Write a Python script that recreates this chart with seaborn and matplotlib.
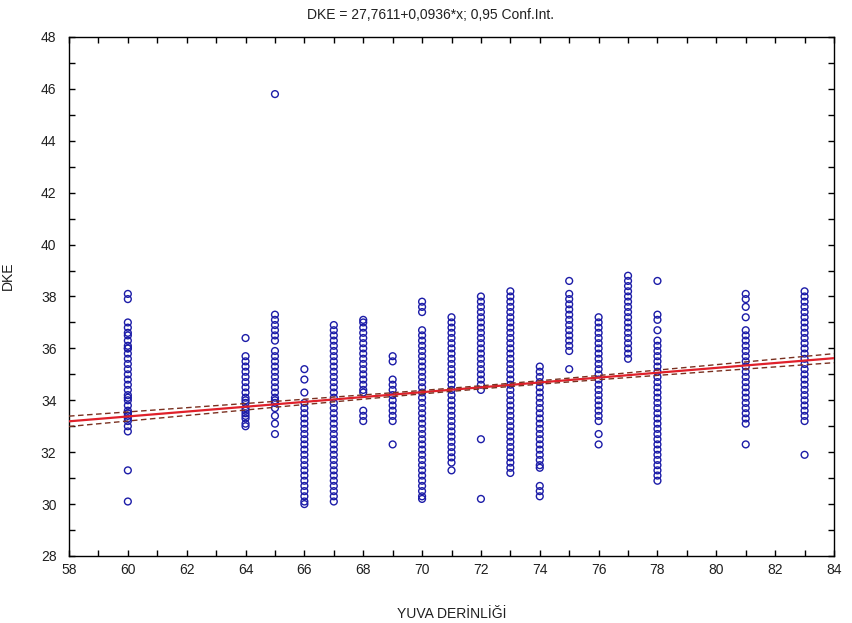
import numpy as np
import pandas as pd
import matplotlib
matplotlib.use("Agg")
import matplotlib.pyplot as plt
import seaborn as sns

# ---- data ----
title_text = "DKE = 27,7611+0,0936*x; 0,95 Conf.Int."
x_label = "YUVA DERİNLİĞİ"
y_label = "DKE"
intercept = 27.7611
slope = 0.0936
# 95% confidence band: narrowest half-width at its centre,
# and half-width at the left edge of the axis
ci_center_x = 72.0
ci_half_center = 0.06
ci_half_left = 0.20

y60 = [38.1, 37.9, 37.0, 36.8, 36.6, 36.5, 36.3, 36.1, 36.0, 36.0, 35.8, 35.6, 35.4,
       35.2, 35.0, 34.8, 34.6, 34.4, 34.2, 34.1, 34.0, 33.8, 33.6, 33.5, 33.5, 33.4,
       33.3, 33.2, 33.0, 32.8, 31.3, 30.1]
y64 = [36.4, 35.7, 35.5, 35.3, 35.1, 34.9, 34.7, 34.5, 34.3, 34.1, 34.0, 33.9, 33.7,
       33.6, 33.5, 33.4, 33.3, 33.1, 33.0]
y65 = [45.8, 37.3, 37.1, 36.9, 36.7, 36.5, 36.3, 35.9, 35.7, 35.5, 35.3, 35.1, 34.9,
       34.7, 34.5, 34.3, 34.1, 34.0, 33.9, 33.7, 33.4, 33.1, 32.7]
y66 = [35.2, 34.8, 34.3, 33.9, 33.7, 33.5, 33.3, 33.1, 32.9, 32.7, 32.5, 32.3, 32.1,
       31.9, 31.7, 31.5, 31.3, 31.1, 30.9, 30.7, 30.5, 30.3, 30.1, 30.0]
y67 = [36.9, 36.7, 36.5, 36.3, 36.1, 35.9, 35.7, 35.5, 35.3, 35.1, 34.9, 34.7, 34.5,
       34.3, 34.1, 33.9, 33.7, 33.5, 33.3, 33.1, 32.9, 32.7, 32.5, 32.3, 32.1, 31.9,
       31.7, 31.5, 31.3, 31.1, 30.9, 30.7, 30.5, 30.3, 30.1]
y68 = [37.1, 37.0, 36.8, 36.6, 36.4, 36.2, 36.0, 35.8, 35.6, 35.4, 35.2, 35.0, 34.8,
       34.6, 34.4, 34.3, 33.6, 33.4, 33.2]
y69 = [35.7, 35.5, 34.8, 34.6, 34.4, 34.2, 34.0, 33.8, 33.6, 33.4, 33.2, 32.3]
y70 = [37.8, 37.6, 37.4, 36.7, 36.5, 36.3, 36.1, 35.9, 35.7, 35.5, 35.3, 35.1, 34.9,
       34.7, 34.5, 34.3, 34.1, 33.9, 33.7, 33.5, 33.3, 33.1, 32.9, 32.7, 32.5, 32.3,
       32.1, 31.9, 31.7, 31.5, 31.3, 31.1, 30.9, 30.7, 30.5, 30.3, 30.2]
y71 = [37.2, 37.0, 36.8, 36.6, 36.4, 36.2, 36.0, 35.8, 35.6, 35.4, 35.2, 35.0, 34.8,
       34.6, 34.4, 34.2, 34.0, 33.8, 33.6, 33.4, 33.2, 33.0, 32.8, 32.6, 32.4, 32.2,
       32.0, 31.8, 31.6, 31.3]
y72 = [38.0, 37.8, 37.6, 37.4, 37.2, 37.0, 36.8, 36.6, 36.4, 36.2, 36.0, 35.8, 35.6,
       35.4, 35.2, 35.0, 34.8, 34.6, 34.4, 32.5, 30.2]
y73 = [38.2, 38.0, 37.8, 37.6, 37.4, 37.2, 37.0, 36.8, 36.6, 36.4, 36.2, 36.0, 35.8,
       35.6, 35.4, 35.2, 35.0, 34.8, 34.6, 34.4, 34.2, 34.0, 33.8, 33.6, 33.4, 33.2,
       33.0, 32.8, 32.6, 32.4, 32.2, 32.0, 31.8, 31.6, 31.4, 31.2]
y74 = [35.3, 35.1, 34.9, 34.7, 34.5, 34.3, 34.1, 33.9, 33.7, 33.5, 33.3, 33.1, 32.9,
       32.7, 32.5, 32.3, 32.1, 31.9, 31.7, 31.5, 31.4, 30.7, 30.5, 30.3]
y75 = [38.6, 38.1, 37.9, 37.7, 37.5, 37.3, 37.1, 36.9, 36.7, 36.5, 36.3, 36.1, 35.9, 35.2]
y76 = [37.2, 37.0, 36.8, 36.6, 36.4, 36.2, 36.0, 35.8, 35.6, 35.4, 35.2, 35.0, 34.8,
       34.6, 34.4, 34.2, 34.0, 33.8, 33.6, 33.4, 33.2, 32.7, 32.3]
y77 = [38.8, 38.6, 38.4, 38.2, 38.0, 37.8, 37.6, 37.4, 37.2, 37.0, 36.8, 36.6, 36.4,
       36.2, 36.0, 35.8, 35.6]
y78 = [38.6, 37.3, 37.1, 36.7, 36.3, 36.1, 35.9, 35.7, 35.5, 35.3, 35.1, 34.9, 34.7,
       34.5, 34.3, 34.1, 33.9, 33.7, 33.5, 33.3, 33.1, 32.9, 32.7, 32.5, 32.3, 32.1,
       31.9, 31.7, 31.5, 31.3, 31.1, 30.9]
y81 = [38.1, 37.9, 37.6, 37.2, 36.7, 36.5, 36.3, 36.1, 35.9, 35.7, 35.5, 35.3, 35.1,
       34.9, 34.7, 34.5, 34.3, 34.1, 33.9, 33.7, 33.5, 33.3, 33.1, 32.3]
y83 = [38.2, 38.0, 37.8, 37.6, 37.4, 37.2, 37.0, 36.8, 36.6, 36.4, 36.2, 36.0, 35.8,
       35.6, 35.4, 35.2, 35.0, 34.8, 34.6, 34.4, 34.2, 34.0, 33.8, 33.6, 33.4, 33.2, 31.9]

x_groups = [60, 64, 65, 66, 67, 68, 69, 70, 71, 72, 73, 74, 75, 76, 77, 78, 81, 83]
y_groups = [y60, y64, y65, y66, y67, y68, y69, y70, y71, y72, y73, y74, y75, y76,
            y77, y78, y81, y83]

x_ticks = list(range(58, 85, 2))
y_ticks = list(range(28, 49, 2))

# ---- build tables ----
rows = []
for xv, ys in zip(x_groups, y_groups):
    for yv in ys:
        rows.append((xv, yv))
df = pd.DataFrame(rows, columns=[x_label, y_label])

xs = np.linspace(x_ticks[0], x_ticks[-1], 200)
fit = intercept + slope * xs
k2 = (ci_half_left ** 2 - ci_half_center ** 2) / (x_ticks[0] - ci_center_x) ** 2
half = np.sqrt(ci_half_center ** 2 + k2 * (xs - ci_center_x) ** 2)
fit_df = pd.DataFrame({"x": xs, "fit": fit, "lo": fit - half, "hi": fit + half})

# ---- figure ----
sns.set_theme(style="ticks")
plt.rcParams["font.family"] = ["Liberation Sans", "DejaVu Sans"]
text_color = "#202020"

fig = plt.figure(figsize=(8.53, 6.23), dpi=100)
ax = fig.add_axes([69 / 853, 1 - 556 / 623, (834 - 69) / 853, (556 - 37) / 623])

sns.scatterplot(data=df, x=x_label, y=y_label, ax=ax, marker="o", s=24,
                facecolor="none", edgecolor="#1c1ca8", linewidth=1.0, zorder=2)

sns.lineplot(data=fit_df, x="x", y="fit", ax=ax, color="#e0202a", lw=1.6, zorder=3)
sns.lineplot(data=fit_df, x="x", y="hi", ax=ax, color="#7a3020", lw=1.0,
             dashes=False, zorder=3).lines[-1].set_linestyle((0, (4, 2.5)))
sns.lineplot(data=fit_df, x="x", y="lo", ax=ax, color="#7a3020", lw=1.0,
             dashes=False, zorder=3).lines[-1].set_linestyle((0, (4, 2.5)))

ax.set_xlim(x_ticks[0], x_ticks[-1])
ax.set_ylim(y_ticks[0], y_ticks[-1])
ax.set_xticks(x_ticks)
ax.set_yticks(y_ticks)
ax.set_xticks(range(58, 85), minor=True)
ax.set_yticks(range(28, 49), minor=True)
ax.tick_params(which="both", direction="in", top=True, right=True, length=4,
               width=1, color="#000000")
ax.tick_params(axis="x", which="major", pad=5, labelsize=10, labelcolor=text_color)
ax.tick_params(axis="y", which="major", pad=9, labelsize=10, labelcolor=text_color)
for sp in ax.spines.values():
    sp.set_visible(True)
    sp.set_color("#000000")
    sp.set_linewidth(1.0)

ax.set_xlabel(x_label, fontsize=10, color=text_color)
ax.set_ylabel(y_label, fontsize=10, color=text_color)
ax.xaxis.set_label_coords(0.5, -0.098)
ax.yaxis.set_label_coords(-0.071, 0.54)

fig.text(0.505, 1 - 15 / 623, title_text, ha="center", va="center",
         fontsize=10, color=text_color)

fig.savefig("out.png", dpi=100, facecolor="white")
